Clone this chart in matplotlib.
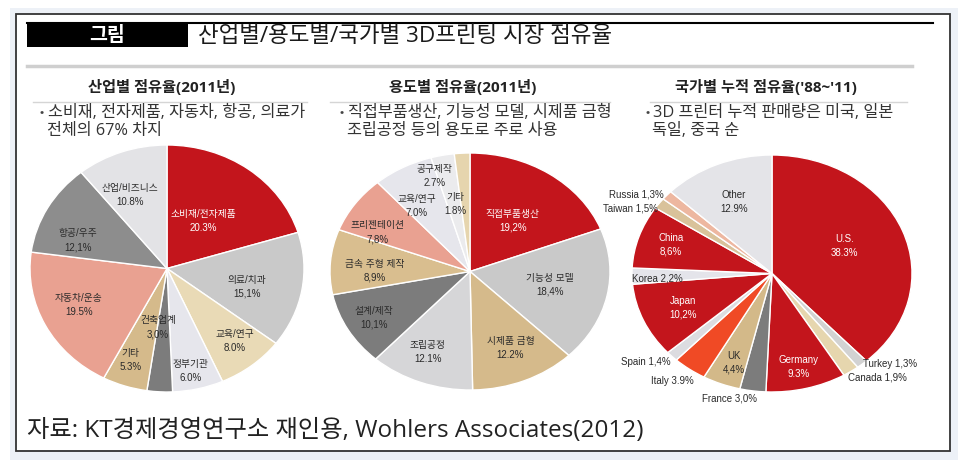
import matplotlib
matplotlib.use('Agg')
import matplotlib.pyplot as plt
import numpy as np
from matplotlib.patches import Rectangle

plt.rcParams['font.family'] = ['Liberation Sans', 'Noto Sans CJK KR', 'DejaVu Sans']
KR = ['Noto Sans CJK KR', 'DejaVu Sans']
KRW = ['Open Sans', 'Noto Sans CJK KR', 'DejaVu Sans']

W, H = 964, 466

# ---------------- data ----------------
ind_labels = ['소비재/전자제품', '의료/치과', '교육/연구', '정부기관', '건축업계',
              '기타', '자동차/운송', '항공/우주', '산업/비즈니스']
ind_values = [20.3, 15.1, 8.0, 6.0, 3.0, 5.3, 19.5, 12.1, 10.8]

use_labels = ['직접부품생산', '기능성 모델', '시제품 금형', '조립공정', '설계/제작',
              '금속 주형 제작', '프리젠테이션', '교육/연구', '공구제작', '기타']
use_values = [19.2, 18.4, 12.2, 12.1, 10.1, 8.9, 7.8, 7.0, 2.7, 1.8]

cty_labels = ['U.S.', 'Turkey', 'Canada', 'Germany', 'France', 'UK', 'Italy',
              'Spain', 'Japan', 'Korea', 'China', 'Taiwan', 'Russia', 'Other']
cty_values = [38.3, 1.3, 1.9, 9.3, 3.0, 4.4, 3.9, 1.4, 10.2, 2.2, 8.6, 1.5, 1.3, 12.9]

# ---------------- styles ----------------
RED = '#C3151C'
ind_colors = [RED, '#C9C9C9', '#E9DAB6', '#E6E6EC', '#7C7C7C', '#D5BA8B',
              '#E9A191', '#8D8D8D', '#E3E3E6']
use_colors = [RED, '#C9C9C9', '#D5BA8B', '#D6D6D8', '#7C7C7C', '#D9BE8F',
              '#E9A191', '#E6E6EC', '#EBEBED', '#E6D5AE']
cty_colors = [RED, '#D2D2D2', '#E6D6AE', RED, '#7C7C7C', '#D3B989', '#F04A25',
              '#DCDCE0', RED, '#E4E4EA', RED, '#D9C29A', '#EDB7A0', '#E4E4E8']

ind_sep = ['.', ',', '.', '.', ',', '.', '.', ',', '.']
use_sep = [',', ',', '.', '.', ',', ',', ',', '.', '.', '.']
cty_sep = ['.', ',', ',', '.', ',', ',', '.', ',', ',', ',', ',', ',', ',', '.']

# label placement: (radius fraction, angle offset from wedge middle in degrees)
ind_lay = [(0.47, 2), (0.60, -4), (0.77, 1.6), (0.85, -1.6), (0.48, -4.7),
           (0.79, -1.8), (0.71, -2.7), (0.69, 10), (0.65, 5)]
use_lay = [(0.525, -1), (0.58, 1), (0.71, 1), (0.74, -3.5), (0.79, 0),
           (0.68, 4), (0.74, 8), (0.67, 6), (0.84, 6), (0.58, 7)]
cty_lay = [(0.57, 3), (1.14, 7.7), (1.16, 6.4), (0.81, -0.6), (1.10, -8.3),
           (0.80, 1.3), (1.15, -2), (1.17, -4.8), (0.70, 0.8), (0.82, 1.4),
           (0.76, -0.5), (1.15, 7.6), (1.18, 6.7), (0.66, 1)]
ind_one = [False] * 9
use_one = [False] * 10
cty_one = [False, True, True, False, True, False, True, True, False, True,
           False, True, True, False]

fig = plt.figure(figsize=(W / 100, H / 100), dpi=100)
fig.patch.set_facecolor('white')

bg = fig.add_axes([0, 0, 1, 1])
bg.set_xlim(0, W)
bg.set_ylim(H, 0)
bg.axis('off')

# shadow + frame
bg.add_patch(Rectangle((10, 8), 948, 452, facecolor='#EDF1F7', edgecolor='none'))
bg.add_patch(Rectangle((16, 14), 934, 437, facecolor='white', edgecolor='#333333', lw=1.3))

# header
bg.plot([27, 933], [23, 23], color='black', lw=1.5)
bg.add_patch(Rectangle((27, 23), 161, 24, facecolor='black', edgecolor='none'))
bg.text(107, 35.5, '그림', color='white', fontsize=14, fontweight='bold',
        ha='center', va='center', family=KR)
bg.text(198, 36, '산업별/용도별/국가별 3D프린팅 시장 점유율', color='#1a1a1a',
        fontsize=16.2, ha='left', va='center', family=KRW)
bg.plot([27, 912], [66, 66], color='#CFCFCF', lw=2.5)

# sub headers
subs = [(162, '산업별 점유율(2011년)', (33, 307), 40,
         ['소비재, 전자제품, 자동차, 항공, 의료가', '전체의 67% 차지']),
        (463, '용도별 점유율(2011년)', (330, 610), 340,
         ['직접부품생산, 기능성 모델, 시제품 금형', '조립공정 등의 용도로 주로 사용']),
        (766, "국가별 누적 점유율('88~'11)", (650, 907), 645,
         ['3D 프린터 누적 판매량은 미국, 일본', '독일, 중국 순'])]
for cx, title, (x0, x1), bx, lines in subs:
    bg.text(cx, 87, title, fontsize=11, fontweight='bold', color='#222222',
            ha='center', va='center', family=KRW)
    bg.plot([x0, x1], [102, 102], color='#D5D5D5', lw=1)
    bg.text(bx, 113, '•', fontsize=9, color='#444444', ha='left', va='center', family=KR)
    bg.text(bx + 8, 113, lines[0], fontsize=11.7, color='#333333', ha='left', va='center', family=KRW)
    bg.text(bx + 7, 131, lines[1], fontsize=11.7, color='#333333', ha='left', va='center', family=KRW)

# footer
bg.text(27, 431, '자료: KT경제경영연구소 재인용, Wohlers Associates(2012)', fontsize=17.5,
        color='#222222', ha='left', va='center', family=KRW)


def draw_pie(rect, values, labels, colors, seps, lay, one):
    l, t, r, b = rect
    ax = fig.add_axes([l / W, 1 - b / H, (r - l) / W, (b - t) / H])
    wedges, _ = ax.pie(values, colors=colors, startangle=90, counterclock=False,
                       radius=1, wedgeprops=dict(edgecolor='white', linewidth=1))
    ax.set_aspect('auto')
    ax.set_xlim(-1, 1)
    ax.set_ylim(-1, 1)
    ax.axis('off')
    for w, lab, v, sep, (rr, dth), single, col in zip(wedges, labels, values, seps,
                                                        lay, one, colors):
        ang = np.deg2rad((w.theta1 + w.theta2) / 2 + dth)
        x, y = rr * np.cos(ang), rr * np.sin(ang)
        pct = f'{v:.1f}%'.replace('.', sep)
        txt = f'{lab} {pct}' if single else f'{lab}\n{pct}'
        tc = 'white' if (col == RED and rr < 1) else '#2a2a2a'
        ax.text(x, y, txt, ha='center', va='center', fontsize=7, color=tc,
                linespacing=1.5, clip_on=False)


draw_pie((30, 145, 304, 392), ind_values, ind_labels, ind_colors, ind_sep, ind_lay, ind_one)
draw_pie((330, 153, 610, 390), use_values, use_labels, use_colors, use_sep, use_lay, use_one)
draw_pie((632, 155, 912, 392), cty_values, cty_labels, cty_colors, cty_sep, cty_lay, cty_one)

fig.savefig('out.png', dpi=100, facecolor='white')
